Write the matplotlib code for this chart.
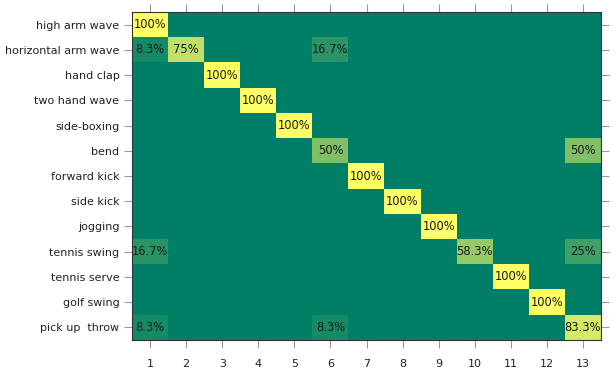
import numpy as np
import matplotlib
matplotlib.use("Agg")
import matplotlib.pyplot as plt

labels = ['high arm wave', 'horizontal arm wave', 'hand clap', 'two hand wave',
          'side-boxing', 'bend', 'forward kick', 'side kick', 'jogging',
          'tennis swing', 'tennis serve', 'golf swing', 'pick up  throw']
cols = list(range(1, 14))

# confusion matrix in percent (rows = true class, cols = predicted)
conf = np.zeros((13, 13))
conf[0, 0] = 100
conf[1, 0] = 8.3; conf[1, 1] = 75; conf[1, 5] = 16.7
conf[2, 2] = 100
conf[3, 3] = 100
conf[4, 4] = 100
conf[5, 5] = 50; conf[5, 12] = 50
conf[6, 6] = 100
conf[7, 7] = 100
conf[8, 8] = 100
conf[9, 0] = 16.7; conf[9, 9] = 58.3; conf[9, 12] = 25
conf[10, 10] = 100
conf[11, 11] = 100
conf[12, 0] = 8.3; conf[12, 5] = 8.3; conf[12, 12] = 83.3

fig = plt.figure(figsize=(6.16, 3.74), dpi=100)
ax = fig.add_axes([132/616, 1 - 340/374, (601-132)/616, (340-12)/374])
ax.imshow(conf / 100.0, cmap='summer', vmin=0, vmax=1, aspect='auto',
          interpolation='nearest')

for i in range(13):
    for j in range(13):
        v = conf[i, j]
        if v > 0:
            txt = '%g%%' % v
            ax.text(j, i, txt, ha='center', va='center', fontsize=8.3,
                    color='#1a1a1a')

ax.set_xticks(range(13))
ax.set_xticklabels(cols)
ax.set_yticks(range(13))
ax.set_yticklabels(labels)
ax.tick_params(axis='both', which='both', direction='out', length=6,
               color='#999999', labelsize=8, labelcolor='#222222',
               top=True, right=True, pad=3)
ax.tick_params(axis='x', pad=8)
for s in ax.spines.values():
    s.set_color('#333333')
    s.set_linewidth(0.8)

fig.savefig('out.png', dpi=100)
